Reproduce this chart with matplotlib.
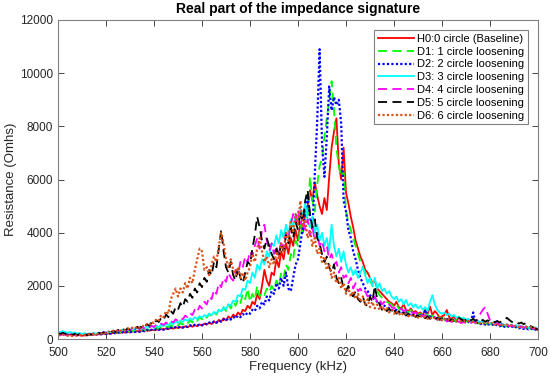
import numpy as np
import matplotlib
matplotlib.use("Agg")
import matplotlib.pyplot as plt

freq = np.arange(500, 701, 1)

h0 = [180, 160, 190, 170, 150, 170, 140, 160, 130, 150,
      120, 140, 130, 160, 150, 170, 160, 180, 170, 200,
      190, 210, 200, 230, 210, 250, 230, 260, 240, 270,
      260, 290, 270, 300, 280, 320, 300, 330, 310, 350,
      330, 360, 340, 380, 350, 400, 370, 420, 390, 440,
      410, 450, 420, 480, 440, 500, 460, 520, 480, 550,
      500, 580, 540, 620, 560, 660, 600, 720, 650, 780,
      700, 850, 760, 920, 840, 1000, 900, 1100, 1050, 1250,
      1150, 1400, 1300, 1700, 1500, 2000, 2600, 2200, 2000, 2500,
      2400, 3000, 2700, 3300, 3000, 3600, 3200, 3800, 3500, 4100,
      3700, 4400, 4000, 4700, 5000, 5600, 5200, 5900, 5400, 5000,
      4700, 5300, 4850, 6100, 7200, 7800, 8300, 6600, 6000, 7200,
      5500, 5100, 4600, 4200, 3700, 3400, 3100, 2900, 2600, 2500,
      2300, 2100, 2200, 1900, 1800, 1700, 1600, 1500, 1400, 1350,
      1250, 1400, 1200, 1150, 1300, 1100, 1050, 1150, 1000, 1050,
      950, 1000, 900, 1100, 950, 1220, 900, 1050, 950, 800,
      850, 900, 1090, 820, 750, 850, 700, 800, 720, 760,
      680, 740, 650, 700, 620, 680, 600, 650, 580, 620,
      560, 600, 540, 580, 520, 560, 500, 540, 480, 520,
      470, 500, 450, 480, 430, 460, 420, 400, 380, 360,
      350]

d1 = [200, 180, 210, 190, 170, 200, 160, 180, 150, 170,
      140, 160, 150, 180, 170, 190, 180, 210, 190, 220,
      210, 240, 220, 260, 230, 270, 250, 290, 260, 300,
      280, 310, 290, 330, 300, 350, 320, 370, 340, 400,
      360, 420, 380, 450, 400, 480, 430, 520, 460, 560,
      500, 600, 540, 650, 580, 700, 620, 760, 680, 820,
      740, 880, 800, 950, 860, 1000, 920, 1100, 980, 1200,
      1050, 1300, 1150, 1400, 1250, 1500, 1350, 1700, 1500, 1900,
      1400, 1700, 1500, 2000, 1600, 1750, 1650, 1900, 1750, 2000,
      1850, 2200, 2000, 2500, 2300, 2800, 2600, 3200, 3000, 3700,
      3500, 4300, 4000, 4800, 4500, 6100, 5200, 4800, 5800, 6500,
      6800, 7600, 8300, 9000, 9700, 8600, 7200, 6500, 6100, 6300,
      4800, 4400, 4100, 3800, 3500, 3200, 2900, 2700, 2500, 2300,
      2200, 2000, 1900, 1800, 1650, 1550, 1500, 1400, 1350, 1300,
      1200, 1300, 1150, 1100, 1200, 1050, 1000, 1100, 950, 1000,
      900, 950, 870, 1000, 900, 830, 880, 800, 850, 760,
      800, 720, 780, 700, 750, 680, 720, 650, 700, 640,
      680, 620, 660, 600, 640, 580, 620, 560, 600, 540,
      580, 520, 560, 500, 540, 480, 520, 460, 500, 450,
      480, 430, 460, 410, 440, 400, 420, 380, 360, 350,
      330]

d2 = [230, 200, 240, 210, 190, 220, 180, 200, 170, 190,
      160, 180, 150, 170, 160, 190, 170, 200, 180, 210,
      190, 220, 200, 240, 210, 250, 220, 260, 230, 270,
      250, 280, 260, 300, 270, 320, 290, 340, 300, 350,
      320, 370, 340, 390, 350, 410, 370, 430, 390, 450,
      420, 470, 430, 490, 450, 520, 470, 540, 500, 560,
      520, 590, 550, 620, 580, 660, 610, 700, 650, 740,
      690, 780, 730, 830, 770, 880, 820, 940, 880, 1000,
      950, 1100, 1050, 1250, 1150, 1400, 1300, 1600, 1450, 1800,
      1700, 2100, 1900, 2300, 2000, 2500, 1900, 1800, 2300, 2800,
      3000, 3600, 4200, 4800, 5400, 4600, 4100, 6200, 8200, 10900,
      7400, 6100, 7600, 9500, 8600, 9100, 8800, 9000, 8100, 5200,
      4800, 4100, 3800, 3300, 3000, 2600, 2300, 2100, 1900, 1800,
      1650, 1550, 1500, 1400, 1350, 1300, 1250, 1200, 1150, 1100,
      1050, 1100, 1000, 1050, 950, 1000, 900, 950, 880, 920,
      850, 900, 820, 1100, 800, 850, 780, 820, 750, 800,
      720, 760, 700, 740, 680, 720, 660, 700, 640, 680,
      620, 660, 600, 1000, 580, 620, 560, 600, 540, 580,
      520, 560, 500, 540, 480, 520, 460, 500, 440, 480,
      420, 460, 400, 440, 380, 420, 360, 400, 340, 360,
      320]

d3 = [280, 250, 300, 260, 230, 270, 220, 250, 200, 230,
      190, 220, 180, 210, 190, 230, 200, 240, 210, 260,
      230, 280, 250, 310, 270, 340, 290, 360, 310, 380,
      330, 400, 350, 420, 370, 450, 400, 480, 430, 520,
      420, 500, 450, 540, 480, 580, 520, 620, 560, 660,
      600, 700, 640, 740, 680, 780, 720, 820, 760, 860,
      800, 900, 850, 960, 900, 1020, 960, 1100, 1040, 1180,
      1120, 1300, 1250, 1450, 1400, 1650, 1600, 1900, 1850, 2200,
      2100, 2500, 2300, 2800, 2600, 3000, 2800, 3300, 3100, 3600,
      3500, 3900, 3600, 4100, 3800, 4300, 3900, 4500, 4200, 4700,
      4300, 4900, 4600, 5100, 4500, 4200, 4600, 4000, 4300, 3700,
      4000, 3500, 3800, 3300, 4300, 3500, 3100, 3400, 2900, 3300,
      2800, 2500, 2700, 2400, 2600, 2300, 2500, 2700, 2400, 2100,
      2300, 2000, 2300, 1900, 2100, 1800, 1900, 1700, 1800, 1600,
      1500, 1600, 1400, 1500, 1300, 1470, 1250, 1350, 1200, 1300,
      1150, 1250, 1100, 1200, 1050, 1400, 1650, 1300, 1100, 1000,
      950, 1000, 900, 950, 850, 900, 800, 850, 760, 800,
      720, 760, 680, 720, 650, 690, 620, 660, 600, 640,
      580, 620, 560, 600, 540, 580, 520, 560, 500, 540,
      480, 520, 460, 500, 440, 480, 420, 460, 400, 420,
      380]

d4 = [170, 150, 180, 160, 140, 170, 130, 160, 140, 170,
      150, 180, 160, 200, 170, 220, 190, 240, 210, 260,
      230, 280, 250, 310, 270, 330, 290, 350, 310, 370,
      330, 390, 350, 410, 370, 440, 390, 470, 420, 500,
      450, 540, 490, 580, 530, 620, 560, 680, 620, 740,
      680, 800, 740, 880, 820, 980, 900, 1100, 1000, 1250,
      1150, 1400, 1300, 1600, 1500, 1850, 1700, 2100, 1950, 2300,
      2150, 2500, 2300, 2200, 2600, 2400, 2900, 2700, 3100, 2900,
      3300, 3100, 3500, 3800, 3400, 4100, 4300, 3700, 3300, 3600,
      3200, 3500, 3100, 3700, 3400, 4000, 3800, 4300, 4700, 4400,
      4850, 4300, 4600, 4100, 4500, 3900, 4200, 3700, 4000, 3500,
      3700, 3300, 3500, 3000, 3200, 2800, 2900, 2500, 2700, 2300,
      2400, 2100, 2300, 1900, 2100, 1800, 1900, 1700, 1800, 1600,
      1650, 1500, 1600, 1400, 1500, 1300, 1400, 1250, 1300, 1200,
      1150, 1200, 1100, 1150, 1050, 1100, 1000, 1050, 950, 1000,
      900, 950, 860, 900, 820, 860, 780, 820, 740, 780,
      700, 740, 660, 700, 640, 680, 620, 660, 600, 640,
      600, 650, 600, 640, 620, 800, 950, 1100, 1200, 950,
      700, 640, 560, 600, 520, 560, 500, 540, 480, 520,
      460, 500, 440, 480, 420, 460, 400, 440, 380, 400,
      360]

d5 = [220, 190, 230, 200, 170, 210, 160, 190, 150, 180,
      140, 170, 150, 190, 170, 210, 180, 230, 200, 250,
      220, 280, 240, 310, 260, 340, 290, 370, 320, 400,
      350, 430, 380, 460, 400, 500, 440, 560, 500, 620,
      560, 700, 640, 800, 720, 920, 820, 1050, 950, 1200,
      1100, 1350, 1200, 1500, 1400, 1700, 1550, 1900, 1750, 2100,
      1950, 2300, 2150, 2600, 2400, 2900, 2700, 3400, 4100, 3300,
      2700, 2500, 2900, 2400, 2200, 2700, 2300, 2100, 2500, 2900,
      2800, 3400, 3900, 4600, 4200, 3700, 3400, 3800, 3500, 3200,
      3000, 3400, 3100, 3600, 3300, 3900, 3600, 4200, 3800, 4400,
      4100, 4800, 4400, 5200, 5600, 4700, 4200, 4500, 3800, 3600,
      3200, 2900, 3100, 2700, 2500, 2800, 2300, 2100, 2300, 1900,
      1800, 2000, 1700, 1600, 1800, 1500, 1400, 1600, 1300, 1250,
      1600, 1400, 2000, 1500, 1300, 1100, 1200, 1050, 1150, 1000,
      1100, 950, 1050, 900, 1000, 880, 950, 850, 920, 830,
      880, 800, 860, 780, 840, 760, 820, 740, 800, 720,
      780, 700, 760, 690, 740, 680, 720, 800, 750, 680,
      720, 800, 700, 760, 680, 740, 660, 720, 650, 700,
      640, 690, 630, 680, 620, 670, 700, 800, 720, 650,
      600, 640, 580, 620, 560, 600, 520, 480, 440, 400,
      350]

d6 = [150, 130, 160, 140, 120, 150, 110, 140, 120, 150,
      130, 160, 140, 180, 160, 200, 180, 220, 200, 250,
      220, 280, 250, 310, 270, 340, 300, 370, 330, 400,
      360, 430, 390, 470, 420, 500, 460, 560, 520, 640,
      600, 760, 700, 900, 820, 1050, 950, 1500, 1700, 1900,
      1600, 1900, 1750, 2100, 1900, 2300, 2100, 2600, 3000, 3400,
      3300, 2600, 2700, 2400, 2800, 3100, 2900, 3500, 4000, 3600,
      3000, 2700, 3000, 2600, 2400, 2700, 2300, 2500, 2200, 2500,
      2700, 3200, 2900, 3400, 3800, 3300, 2900, 3100, 2700, 3000,
      2800, 3300, 3000, 3600, 3300, 4000, 3700, 4400, 4000, 4700,
      4300, 5200, 4200, 4500, 3800, 4100, 3500, 3800, 3200, 3400,
      2900, 3100, 2600, 2800, 2300, 2500, 2100, 2300, 1900, 2100,
      1700, 1900, 1600, 1800, 1500, 1700, 1400, 1600, 1300, 1500,
      1200, 1400, 1150, 1300, 1100, 1250, 1050, 1200, 1000, 1100,
      950, 1050, 900, 1000, 880, 960, 850, 930, 820, 900,
      800, 870, 780, 850, 760, 830, 740, 800, 720, 780,
      700, 760, 690, 740, 680, 720, 660, 700, 650, 690,
      640, 680, 620, 660, 600, 640, 590, 630, 570, 610,
      560, 600, 540, 580, 520, 560, 500, 540, 480, 520,
      470, 510, 450, 490, 430, 470, 410, 450, 390, 420,
      380]

labels = ["H0:0 circle (Baseline)", "D1: 1 circle loosening", "D2: 2 circle loosening",
          "D3: 3 circle loosening", "D4: 4 circle loosening", "D5: 5 circle loosening",
          "D6: 6 circle loosening"]
series = [h0, d1, d2, d3, d4, d5, d6]
colors = ["#FF0000", "#00FF00", "#0000FF", "#00FFFF", "#FF00FF", "#000000", "#D95319"]
styles = ["-", (0, (5, 3)), (0, (1, 1)), "-", (0, (5, 3)), (0, (5, 3)), (0, (1, 1))]
widths = [1.3, 1.3, 1.6, 1.3, 1.3, 1.3, 1.6]

plt.rcParams['font.family'] = ['Liberation Sans', 'DejaVu Sans']

fig = plt.figure(figsize=(5.5, 3.77), dpi=100)
ax = fig.add_axes([58/550, 1 - 339/377, 480/550, 319/377])

for y, lab, c, ls, lw in zip(series, labels, colors, styles, widths):
    ax.plot(freq, y, color=c, linestyle=ls, linewidth=lw, label=lab)

ax.set_xlim(500, 700)
ax.set_ylim(0, 12000)
ax.set_xticks(np.arange(500, 701, 20))
ax.set_yticks(np.arange(0, 12001, 2000))
ax.tick_params(direction='in', top=True, right=True, labelsize=8.5, colors='#262626',
               length=4, width=0.6)
ax.tick_params(axis='x', pad=6)
for sp in ax.spines.values():
    sp.set_color('#808080')
    sp.set_linewidth(0.8)
ax.set_xlabel("Frequency (kHz)", fontsize=9.5, color='#262626', labelpad=1)
ax.set_ylabel("Resistance (Omhs)", fontsize=9.5, color='#262626', labelpad=2)
ax.set_title("Real part of the impedance signature", fontsize=10, fontweight='bold',
             color='black', pad=5)

leg = ax.legend(loc='upper right', fontsize=8, handlelength=3.2, handletextpad=0.3,
                labelspacing=0.25, borderpad=0.35, borderaxespad=0.9, fancybox=False,
                framealpha=1, edgecolor='#808080')
leg.get_frame().set_linewidth(0.8)

fig.savefig("out.png", dpi=100)
